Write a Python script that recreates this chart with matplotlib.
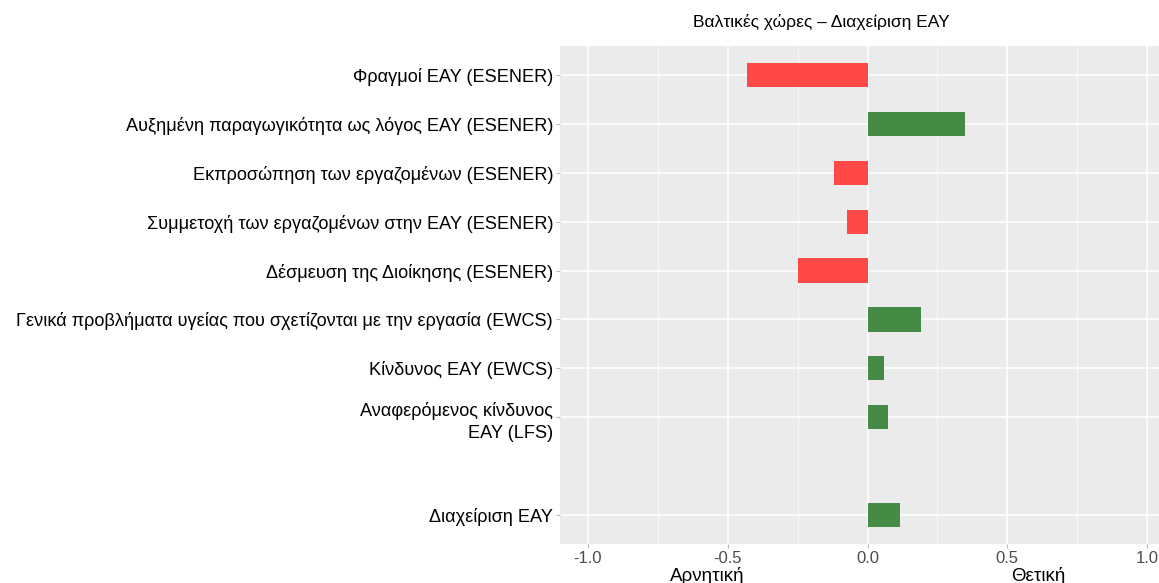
import matplotlib
matplotlib.use('Agg')
import matplotlib.pyplot as plt
from matplotlib.ticker import MultipleLocator
from matplotlib.transforms import ScaledTranslation

plt.rcParams['font.family'] = ['Liberation Sans', 'DejaVu Sans']

# datos (de arriba hacia abajo)
categorias = [
    'Φραγμοί ΕΑΥ (ESENER)',
    'Αυξημένη παραγωγικότητα ως λόγος ΕΑΥ (ESENER)',
    'Εκπροσώπηση των εργαζομένων (ESENER)',
    'Συμμετοχή των εργαζομένων στην ΕΑΥ (ESENER)',
    'Δέσμευση της Διοίκησης (ESENER)',
    'Γενικά προβλήματα υγείας που σχετίζονται με την εργασία (EWCS)',
    'Κίνδυνος ΕΑΥ (EWCS)',
    'Αναφερόμενος κίνδυνος\nΕΑΥ (LFS)',
    'Διαχείριση ΕΑΥ',
]
posiciones = [0, 1, 2, 3, 4, 5, 6, 7, 9]
valores = [-0.43, 0.35, -0.12, -0.074, -0.25, 0.19, 0.06, 0.075, 0.117]
ticks_x = [-1.0, -0.5, 0.0, 0.5, 1.0]
etiquetas_x = ['-1.0', '-0.5', '0.0', '0.5', '1.0']
titulo = 'Βαλτικές χώρες – Διαχείριση ΕΑΥ'

ROJO = '#FF4848'
VERDE = '#458B45'

W, H = 1159, 583
fig = plt.figure(figsize=(W / 100, H / 100), dpi=100)
ax = fig.add_axes([560 / W, (H - 544) / H, 615 / W, 498 / H])
ax.set_facecolor('#EBEBEB')

colores = [ROJO if v < 0 else VERDE for v in valores]
ax.barh(posiciones, valores, height=0.5, color=colores, zorder=3)

ax.set_xlim(-1.1, 1.1)
ax.set_ylim(9.6, -0.6)
ax.set_xticks(ticks_x)
ax.set_xticklabels(etiquetas_x)
ax.xaxis.set_minor_locator(MultipleLocator(0.25))
ax.set_yticks(posiciones)
ax.set_yticklabels(categorias, fontsize=13.1, color='black')

# la etiqueta de dos lineas queda algo mas abajo en el original
lbl = ax.get_yticklabels()[7]
lbl.set_linespacing(1.45)
lbl.set_transform(lbl.get_transform() + ScaledTranslation(0, -0.085, fig.dpi_scale_trans))

ax.grid(which='major', color='white', linewidth=1.1, zorder=0)
ax.grid(which='minor', axis='x', color='white', linewidth=0.5, zorder=0)
for s in ax.spines.values():
    s.set_visible(False)
ax.tick_params(axis='both', which='major', length=3, color='#BBBBBB', pad=2)
ax.tick_params(axis='x', which='major', labelsize=12, labelcolor='#4D4D4D')
ax.tick_params(axis='x', which='minor', length=0)

fig.text(821 / W, 1 - 22 / H, titulo, ha='center', va='center', fontsize=12.5)
fig.text(707 / W, 1 - 576 / H, 'Αρνητική', ha='center', va='center', fontsize=13.5)
fig.text(1038 / W, 1 - 576 / H, 'Θετική', ha='center', va='center', fontsize=13.5)

fig.savefig('out.png', dpi=100)
